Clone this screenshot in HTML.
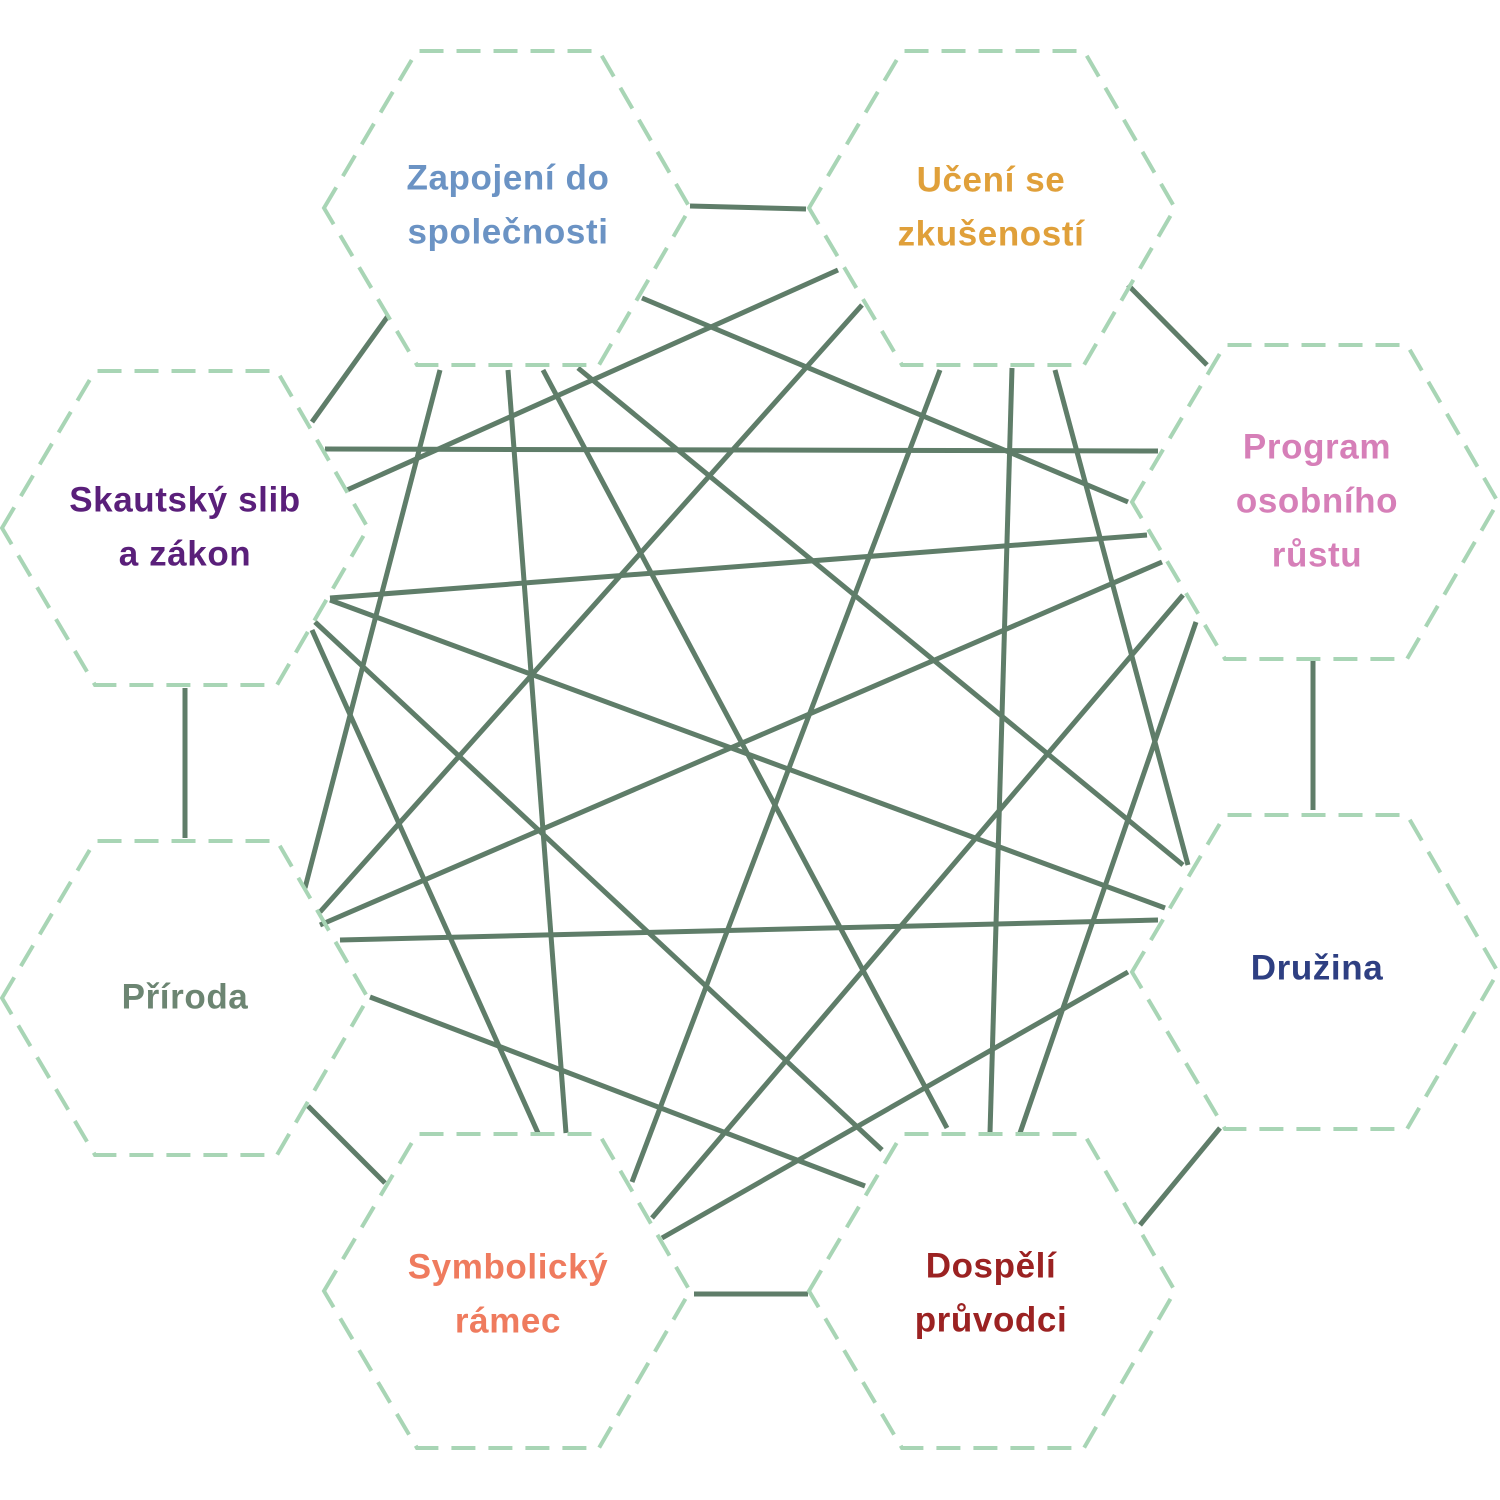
<!DOCTYPE html>
<html><head><meta charset="utf-8"><style>html,body{margin:0;padding:0;background:#fff}svg{display:block}</style></head>
<body>
<svg width="1500" height="1500" viewBox="0 0 1500 1500" xmlns="http://www.w3.org/2000/svg">
<g stroke="#5f7d69" stroke-width="5" fill="none">
<line x1="690" y1="206" x2="806" y2="209"/>
<line x1="642" y1="298" x2="1128" y2="502"/>
<line x1="838" y1="270" x2="347" y2="490"/>
<line x1="862" y1="305" x2="320" y2="912"/>
<line x1="388" y1="316" x2="312" y2="422"/>
<line x1="1128" y1="285" x2="1207" y2="365"/>
<line x1="325" y1="449" x2="1158" y2="451"/>
<line x1="440" y1="370" x2="305" y2="888"/>
<line x1="508" y1="370" x2="566" y2="1133"/>
<line x1="543" y1="370" x2="947" y2="1128"/>
<line x1="578" y1="368" x2="1183" y2="865"/>
<line x1="940" y1="370" x2="632" y2="1182"/>
<line x1="1012" y1="368" x2="990" y2="1133"/>
<line x1="1055" y1="370" x2="1188" y2="865"/>
<line x1="1147" y1="535" x2="330" y2="598"/>
<line x1="1162" y1="562" x2="320" y2="925"/>
<line x1="1183" y1="595" x2="652" y2="1218"/>
<line x1="1196" y1="622" x2="1020" y2="1133"/>
<line x1="1313" y1="660" x2="1313" y2="810"/>
<line x1="330" y1="600" x2="1165" y2="908"/>
<line x1="315" y1="622" x2="882" y2="1150"/>
<line x1="312" y1="630" x2="538" y2="1133"/>
<line x1="185" y1="688" x2="185" y2="838"/>
<line x1="340" y1="940" x2="1158" y2="920"/>
<line x1="370" y1="997" x2="865" y2="1186"/>
<line x1="308" y1="1106" x2="385" y2="1183"/>
<line x1="1128" y1="972" x2="662" y2="1238"/>
<line x1="1220" y1="1128" x2="1140" y2="1225"/>
<line x1="694" y1="1294" x2="808" y2="1294"/>
</g>
<g stroke="#a8d5b5" stroke-width="4" stroke-dasharray="24 13" fill="none">
<polygon points="324,208 417,51 599,51 690,208 599,365 417,365"/>
<polygon points="809,208 902,51 1084,51 1175,208 1084,365 902,365"/>
<polygon points="1132,502 1225,345 1407,345 1498,502 1407,659 1225,659"/>
<polygon points="1132,972 1225,815 1407,815 1498,972 1407,1129 1225,1129"/>
<polygon points="809,1291 902,1134 1084,1134 1175,1291 1084,1448 902,1448"/>
<polygon points="324,1291 417,1134 599,1134 690,1291 599,1448 417,1448"/>
<polygon points="2,998 95,841 277,841 368,998 277,1155 95,1155"/>
<polygon points="2,528 95,371 277,371 368,528 277,685 95,685"/>
</g>
<g font-family="Liberation Sans, DejaVu Sans, sans-serif" font-weight="bold" font-size="35" letter-spacing="0.6" text-anchor="middle" dominant-baseline="central">
<text x="508" y="178" fill="#6b93c4">Zapojení do</text>
<text x="508" y="232" fill="#6b93c4">společnosti</text>
<text x="991" y="180" fill="#e0a03a">Učení se</text>
<text x="991" y="234" fill="#e0a03a">zkušeností</text>
<text x="1317" y="447" fill="#d67fb8">Program</text>
<text x="1317" y="501" fill="#d67fb8">osobního</text>
<text x="1317" y="555" fill="#d67fb8">růstu</text>
<text x="1317" y="968" fill="#2e3f82">Družina</text>
<text x="991" y="1266" fill="#9b2222">Dospělí</text>
<text x="991" y="1320" fill="#9b2222">průvodci</text>
<text x="508" y="1267" fill="#ef7b5e">Symbolický</text>
<text x="508" y="1321" fill="#ef7b5e">rámec</text>
<text x="185" y="997" fill="#6c8572">Příroda</text>
<text x="185" y="500" fill="#5a1f7a">Skautský slib</text>
<text x="185" y="554" fill="#5a1f7a">a zákon</text>
</g>
</svg>
</body></html>
